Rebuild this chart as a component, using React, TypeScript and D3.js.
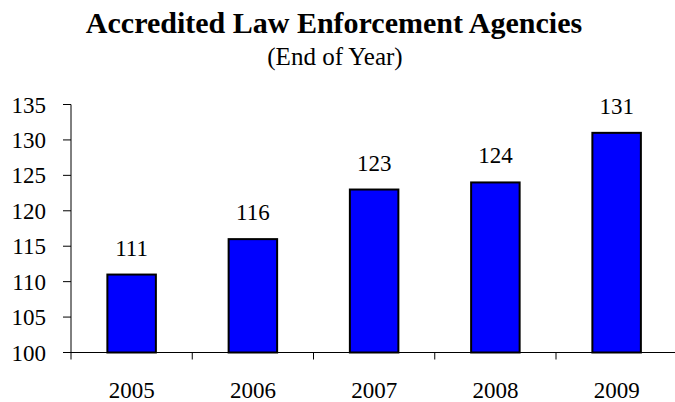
import React from "react";
import * as d3 from "d3";

const years = ["2005", "2006", "2007", "2008", "2009"];
const agencies = [111, 116, 123, 124, 131];
const yTicks = [100, 105, 110, 115, 120, 125, 130, 135];
const title = "Accredited Law Enforcement Agencies";
const subtitle = "(End of Year)";

const W = 675;
const H = 402;
const FONT = "'Liberation Serif', 'DejaVu Serif', serif";

export default function App() {
  const left = 71;
  const step = 121.25;
  const x = d3
    .scaleBand<string>()
    .domain(years)
    .range([left, left + step * years.length])
    .paddingInner(0.6)
    .paddingOuter(0.3);
  const y = d3.scaleLinear().domain([100, 135]).range([352.5, 104.5]);
  const boundaries = d3.range(years.length + 1).map((i) => left + i * x.step());

  return (
    <svg
      width={W}
      height={H}
      style={{ position: "absolute", left: 0, top: 0, background: "#fff" }}
      fontFamily={FONT}
    >
      <text x={334} y={33} textAnchor="middle" fontSize={30} fontWeight="bold" fill="#000">
        {title}
      </text>
      <text x={335} y={65} textAnchor="middle" fontSize={25} fill="#000">
        {subtitle}
      </text>

      {years.map((yr, i) => (
        <g key={yr}>
          <rect
            x={x(yr)!}
            y={y(agencies[i])}
            width={x.bandwidth()}
            height={y(100) - y(agencies[i])}
            fill="#0000FF"
            stroke="#000"
            strokeWidth={2}
          />
          <text
            x={x(yr)! + x.bandwidth() / 2}
            y={y(agencies[i]) - 19}
            textAnchor="middle"
            fontSize={23}
            fill="#000"
          >
            {agencies[i]}
          </text>
          <text
            x={x(yr)! + x.bandwidth() / 2}
            y={398}
            textAnchor="middle"
            fontSize={23}
            fill="#000"
          >
            {yr}
          </text>
        </g>
      ))}

      {/* y axis */}
      <line x1={left} x2={left} y1={y(135)} y2={y(100)} stroke="#000" strokeWidth={1} />
      {yTicks.map((t) => (
        <g key={t}>
          <line x1={left - 8} x2={left} y1={y(t)} y2={y(t)} stroke="#000" strokeWidth={1} />
          <text x={46} y={y(t)} dy="0.35em" textAnchor="end" fontSize={23} fill="#000">
            {t}
          </text>
        </g>
      ))}

      {/* x axis */}
      <line x1={left} x2={W} y1={y(100)} y2={y(100)} stroke="#000" strokeWidth={1} />
      {boundaries.map((b, i) => (
        <line key={i} x1={b} x2={b} y1={y(100)} y2={y(100) + 7} stroke="#000" strokeWidth={1} />
      ))}
    </svg>
  );
}
